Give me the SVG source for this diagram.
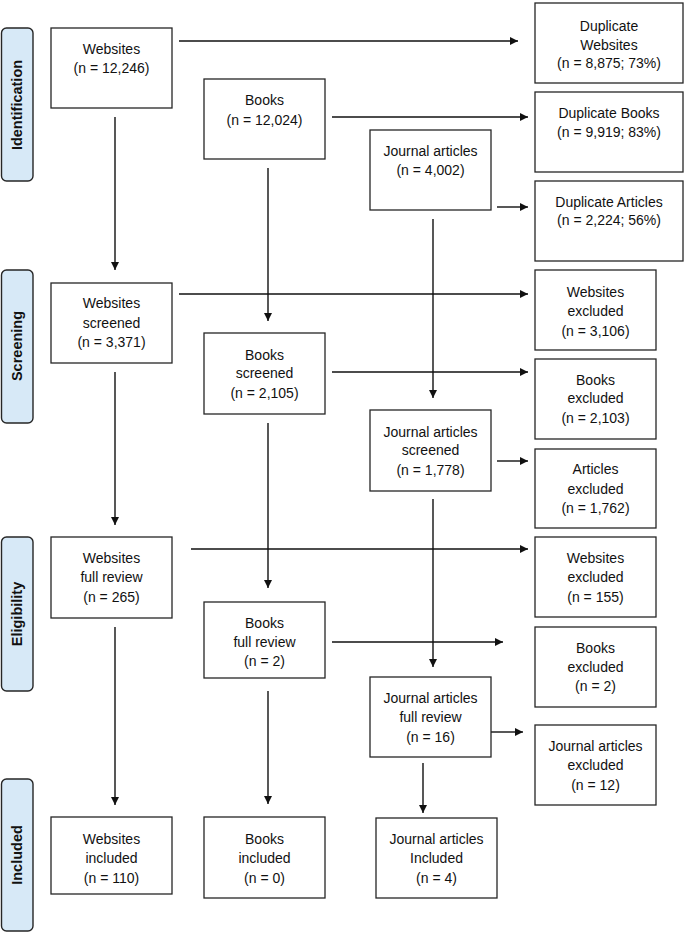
<svg xmlns="http://www.w3.org/2000/svg" width="685" height="933" viewBox="0 0 685 933">
<style>
.box{fill:#fff;stroke:#262626;stroke-width:1.3}
.phase{fill:#d7e9f7;stroke:#262626;stroke-width:1.4}
.t{font-family:"Liberation Sans",Arial,sans-serif;font-size:14px;fill:#111;text-anchor:middle}
.pt{font-family:"Liberation Sans",Arial,sans-serif;font-size:14.5px;font-weight:bold;fill:#111;text-anchor:middle}
.c{stroke:#111;stroke-width:1.4;fill:none;marker-end:url(#ah)}
</style>
<defs>
<marker id="ah" viewBox="0 0 10 10" refX="10" refY="5" markerWidth="10" markerHeight="8" markerUnits="userSpaceOnUse" orient="auto">
<path d="M0,0 L10,5 L0,10 z" fill="#111"/>
</marker>
</defs>
<rect width="685" height="933" fill="#fff"/>

<g id="phase-identification"><rect class="phase" x="1.5" y="28" width="31.5" height="153" rx="5"/><text class="pt" transform="translate(22,105) rotate(-90)">Identification</text></g>
<g id="phase-screening"><rect class="phase" x="1.5" y="270" width="31.5" height="153" rx="5"/><text class="pt" transform="translate(22,346) rotate(-90)">Screening</text></g>
<g id="phase-eligibility"><rect class="phase" x="1.5" y="537" width="31.5" height="154" rx="5"/><text class="pt" transform="translate(22,614) rotate(-90)">Eligibility</text></g>
<g id="phase-included"><rect class="phase" x="1.5" y="779" width="31.5" height="152" rx="5"/><text class="pt" transform="translate(22,855) rotate(-90)">Included</text></g>

<g id="connectors">
<line class="c" x1="179" y1="41" x2="518" y2="41"/>
<line class="c" x1="332" y1="117" x2="528" y2="117"/>
<line class="c" x1="497" y1="207" x2="528" y2="207"/>
<line class="c" x1="115" y1="117" x2="115" y2="270"/>
<line class="c" x1="268" y1="168" x2="268" y2="321"/>
<line class="c" x1="433" y1="219" x2="433" y2="398"/>
<line class="c" x1="179" y1="294" x2="528" y2="294"/>
<line class="c" x1="332" y1="372" x2="528" y2="372"/>
<line class="c" x1="497" y1="461" x2="528" y2="461"/>
<line class="c" x1="115" y1="372" x2="115" y2="525"/>
<line class="c" x1="268" y1="423" x2="268" y2="588"/>
<line class="c" x1="433" y1="499" x2="433" y2="667"/>
<line class="c" x1="191" y1="549" x2="528" y2="549"/>
<line class="c" x1="332" y1="642" x2="503" y2="642"/>
<line class="c" x1="491" y1="732" x2="523" y2="732"/>
<line class="c" x1="115" y1="627" x2="115" y2="805"/>
<line class="c" x1="268" y1="691" x2="268" y2="804"/>
<line class="c" x1="423" y1="763" x2="423" y2="813"/>
</g>

<g id="websites"><rect class="box" x="51" y="28" width="121" height="80"/><text class="t" x="111.5" y="54">Websites</text><text class="t" x="111.5" y="73">(n = 12,246)</text></g>
<g id="books"><rect class="box" x="204" y="79" width="121" height="80"/><text class="t" x="264.5" y="105">Books</text><text class="t" x="264.5" y="125">(n = 12,024)</text></g>
<g id="journal-articles"><rect class="box" x="370" y="130" width="121" height="80"/><text class="t" x="430.5" y="156">Journal articles</text><text class="t" x="430.5" y="175">(n = 4,002)</text></g>
<g id="duplicate-websites"><rect class="box" x="535" y="3" width="148" height="80"/><text class="t" x="609" y="31">Duplicate</text><text class="t" x="609" y="50">Websites</text><text class="t" x="609" y="68">(n = 8,875; 73%)</text></g>
<g id="duplicate-books"><rect class="box" x="535" y="92" width="148" height="80"/><text class="t" x="609" y="118">Duplicate Books</text><text class="t" x="609" y="137">(n = 9,919; 83%)</text></g>
<g id="duplicate-articles"><rect class="box" x="535" y="181" width="148" height="80"/><text class="t" x="609" y="207">Duplicate Articles</text><text class="t" x="609" y="225">(n = 2,224; 56%)</text></g>

<g id="websites-screened"><rect class="box" x="51" y="283" width="121" height="80"/><text class="t" x="111.5" y="308">Websites</text><text class="t" x="111.5" y="328">screened</text><text class="t" x="111.5" y="347">(n = 3,371)</text></g>
<g id="books-screened"><rect class="box" x="204" y="333" width="121" height="81"/><text class="t" x="264.5" y="360">Books</text><text class="t" x="264.5" y="378">screened</text><text class="t" x="264.5" y="398">(n = 2,105)</text></g>
<g id="journal-articles-screened"><rect class="box" x="370" y="410" width="121" height="81"/><text class="t" x="430.5" y="437">Journal articles</text><text class="t" x="430.5" y="455">screened</text><text class="t" x="430.5" y="475">(n = 1,778)</text></g>
<g id="websites-excluded-1"><rect class="box" x="535" y="270" width="121" height="80"/><text class="t" x="595.5" y="297">Websites</text><text class="t" x="595.5" y="316">excluded</text><text class="t" x="595.5" y="336">(n = 3,106)</text></g>
<g id="books-excluded-1"><rect class="box" x="535" y="359" width="121" height="80"/><text class="t" x="595.5" y="385">Books</text><text class="t" x="595.5" y="403">excluded</text><text class="t" x="595.5" y="423">(n = 2,103)</text></g>
<g id="articles-excluded"><rect class="box" x="535" y="449" width="121" height="79"/><text class="t" x="595.5" y="474">Articles</text><text class="t" x="595.5" y="494">excluded</text><text class="t" x="595.5" y="513">(n = 1,762)</text></g>

<g id="websites-full-review"><rect class="box" x="51" y="537" width="121" height="81"/><text class="t" x="111.5" y="563">Websites</text><text class="t" x="111.5" y="582">full review</text><text class="t" x="111.5" y="602">(n = 265)</text></g>
<g id="books-full-review"><rect class="box" x="204" y="602" width="121" height="76"/><text class="t" x="264.5" y="628">Books</text><text class="t" x="264.5" y="647">full review</text><text class="t" x="264.5" y="666">(n = 2)</text></g>
<g id="journal-articles-full-review"><rect class="box" x="370" y="677" width="121" height="80"/><text class="t" x="430.5" y="703">Journal articles</text><text class="t" x="430.5" y="722">full review</text><text class="t" x="430.5" y="742">(n = 16)</text></g>
<g id="websites-excluded-2"><rect class="box" x="535" y="537" width="121" height="80"/><text class="t" x="595.5" y="563">Websites</text><text class="t" x="595.5" y="582">excluded</text><text class="t" x="595.5" y="602">(n = 155)</text></g>
<g id="books-excluded-2"><rect class="box" x="535" y="627" width="121" height="80"/><text class="t" x="595.5" y="653">Books</text><text class="t" x="595.5" y="672">excluded</text><text class="t" x="595.5" y="691">(n = 2)</text></g>
<g id="journal-articles-excluded"><rect class="box" x="535" y="725" width="121" height="80"/><text class="t" x="595.5" y="751">Journal articles</text><text class="t" x="595.5" y="770">excluded</text><text class="t" x="595.5" y="790">(n = 12)</text></g>

<g id="websites-included"><rect class="box" x="51" y="817" width="121" height="77"/><text class="t" x="111.5" y="844">Websites</text><text class="t" x="111.5" y="863">included</text><text class="t" x="111.5" y="883">(n = 110)</text></g>
<g id="books-included"><rect class="box" x="204" y="817" width="121" height="81"/><text class="t" x="264.5" y="844">Books</text><text class="t" x="264.5" y="863">included</text><text class="t" x="264.5" y="883">(n = 0)</text></g>
<g id="journal-articles-included"><rect class="box" x="376" y="818" width="121" height="80"/><text class="t" x="436.5" y="844">Journal articles</text><text class="t" x="436.5" y="863">Included</text><text class="t" x="436.5" y="883">(n = 4)</text></g>
</svg>
